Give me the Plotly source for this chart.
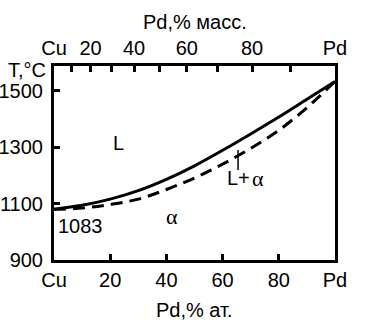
import plotly.graph_objects as go

# ---- data ----
at_pct = [0, 10, 20, 30, 40, 50, 60, 70, 80, 90, 100]
liquidus = [1080, 1094, 1116, 1146, 1186, 1234, 1289, 1347, 1407, 1470, 1533]
solidus = [1080, 1084, 1097, 1116, 1150, 1191, 1240, 1296, 1360, 1440, 1533]

bottom_ticks = [0, 20, 40, 60, 80, 100]
bottom_text = ["Cu", "20", "40", "60", "80", "Pd"]
left_ticks = [900, 1100, 1300, 1500]
top_wt = [0, 10, 20, 30, 40, 50, 60, 70, 80, 90, 100]
top_text = ["Cu", "", "20", "", "40", "", "60", "", "80", "", "Pd"]

M_CU, M_PD = 63.546, 106.42


def wt_to_at(w):
    a = w / M_PD
    b = (100 - w) / M_CU
    return 100 * a / (a + b) if (a + b) else 0


top_pos = [wt_to_at(w) for w in top_wt]

FONT = "Liberation Sans, Arial, sans-serif"
SERIF = "Liberation Serif, Times New Roman, serif"
FS = 20

fig = go.Figure()
fig.add_trace(go.Scatter(x=at_pct, y=liquidus, mode="lines", line_shape="spline",
                         line=dict(color="black", width=3), showlegend=False))
fig.add_trace(go.Scatter(x=at_pct, y=solidus, mode="lines", line_shape="spline",
                         line=dict(color="black", width=3, dash="12px,7px"), showlegend=False))
# invisible trace to activate top axis
fig.add_trace(go.Scatter(x=[0, 100], y=[900, 900], xaxis="x2", mode="lines",
                         line=dict(width=0), hoverinfo="skip", showlegend=False))

common = dict(showgrid=False, zeroline=False, showline=True, linecolor="black",
              linewidth=3, ticks="inside", ticklen=6, tickwidth=3, tickcolor="black",
              automargin=False)

fig.update_layout(
    width=385, height=320,
    margin=dict(l=54, r=50, t=66, b=60, autoexpand=False),
    paper_bgcolor="white", plot_bgcolor="white",
    font=dict(family=FONT, size=FS, color="black"),
    xaxis=dict(range=[0, 100], tickvals=bottom_ticks, ticktext=bottom_text,
               ticklabelstandoff=0, **common),
    xaxis2=dict(range=[0, 100], overlaying="x", side="top", anchor="y",
                tickvals=top_pos, ticktext=top_text, ticklabelstandoff=0, **common),
    yaxis=dict(range=[900, 1588], mirror=True, tickvals=left_ticks,
               ticklabelstandoff=4, **common),
)

ann = [
    dict(text="Pd,% ат.", xref="paper", yref="paper", x=0.5, y=-0.258),
    dict(text="Pd,% масс.", xref="paper", yref="paper", x=0.5, y=1.227),
    dict(text="T,°C", xref="paper", yref="paper", x=-0.021, y=0.979, xanchor="right"),
    dict(text="L", xref="x", yref="y", x=22.8, y=1315),
    dict(text="L+", xref="x", yref="y", x=70.5, y=1191, xanchor="right"),
    dict(text="α", xref="x", yref="y", x=69.6, y=1188, xanchor="left", family=SERIF, size=22),
    dict(text="α", xref="x", yref="y", x=42, y=1053, family=SERIF, size=22),
    dict(text="1083", xref="x", yref="y", x=9.3, y=1020),
    dict(text="1554", xref="x", yref="y", x=110, y=1528),
]
for a in ann:
    a.setdefault("xanchor", "center")
    fam = a.pop("family", FONT)
    sz = a.pop("size", FS)
    a.update(showarrow=False, yanchor="middle", font=dict(family=fam, size=sz, color="black"))
    fig.add_annotation(**a)

fig.add_shape(type="line", xref="x", yref="y", x0=65.5, x1=65.5, y0=1219, y1=1290,
              line=dict(color="black", width=1.5))

fig.write_html("out.html")
